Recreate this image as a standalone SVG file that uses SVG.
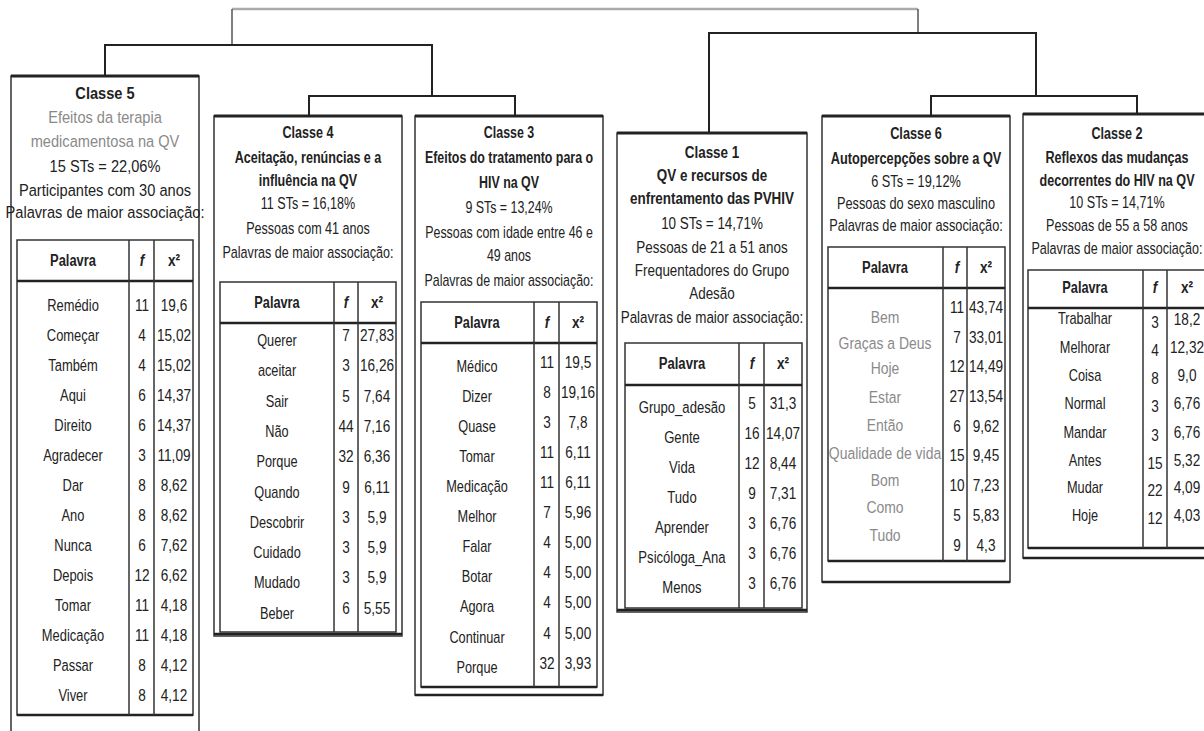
<svg xmlns="http://www.w3.org/2000/svg" width="1204" height="731" viewBox="0 0 1204 731">
<style>
.bx{fill:#fff;stroke:#333;stroke-width:1.5}
.tp{stroke:#222;stroke-width:3}
.tb{fill:none;stroke:#333;stroke-width:1.5}
.hl{stroke:#222;stroke-width:2.5}
.cl{stroke:#333;stroke-width:1.5}
.ln{fill:none;stroke:#222;stroke-width:2}
.lg{fill:none;stroke:#aaa;stroke-width:2.5}
.lv{fill:none;stroke:#555;stroke-width:1.5}
text{font-family:"Liberation Sans",Arial,sans-serif;font-size:17px;fill:#222;text-anchor:middle}
.b{font-weight:bold}
.g{fill:#8a8a8a}
.i{font-style:italic}
</style>
<rect width="1204" height="731" fill="#fff"/>
<g id="connectors">
<path class="lg" d="M232,9 H918"/>
<path class="lv" d="M232,9 V45"/>
<path class="lv" d="M918,9 V33"/>
<path class="ln" d="M105,76 V45 H432 V96"/>
<path class="ln" d="M309,116 V96 H515 V116"/>
<path class="ln" d="M709,133 V33 H1036 V96"/>
<path class="ln" d="M931,116 V96 H1137 V114"/>
</g>

<g id="classe5">
<path class="bx" d="M11,745 V76 H199 V745"/>
<line class="tp" x1="11" y1="76" x2="199" y2="76"/>
<rect class="tb" x="17" y="240" width="176" height="475"/>
<line class="hl" x1="17" y1="281" x2="193" y2="281"/>
<line class="hl" x1="17" y1="715" x2="193" y2="715"/>
<line class="cl" x1="129" y1="240" x2="129" y2="715"/>
<line class="cl" x1="154" y1="240" x2="154" y2="715"/>
<g transform="translate(105,0) scale(0.86,1)">
<text class="b" y="99">Classe 5</text>
<text class="g" y="123">Efeitos da terapia</text>
<text class="g" y="147">medicamentosa na QV</text>
<text y="172">15 STs = 22,06%</text>
<text y="196">Participantes com 30 anos</text>
<text y="218">Palavras de maior associação:</text>
</g>
<g transform="translate(73,0) scale(0.76,1)">
<text class="b" y="266">Palavra</text>
<text y="311">Remédio</text><text y="341">Começar</text><text y="371">Também</text><text y="401">Aqui</text><text y="431">Direito</text><text y="461">Agradecer</text><text y="491">Dar</text><text y="521">Ano</text><text y="551">Nunca</text><text y="581">Depois</text><text y="611">Tomar</text><text y="641">Medicação</text><text y="671">Passar</text><text y="701">Viver</text>
</g>
<g transform="translate(142,0) scale(0.8,1)">
<text class="b i" y="266">f</text>
<text y="311">11</text><text y="341">4</text><text y="371">4</text><text y="401">6</text><text y="431">6</text><text y="461">3</text><text y="491">8</text><text y="521">8</text><text y="551">6</text><text y="581">12</text><text y="611">11</text><text y="641">11</text><text y="671">8</text><text y="701">8</text>
</g>
<g transform="translate(174,0) scale(0.8,1)">
<text class="b" y="266">x²</text>
<text y="311">19,6</text><text y="341">15,02</text><text y="371">15,02</text><text y="401">14,37</text><text y="431">14,37</text><text y="461">11,09</text><text y="491">8,62</text><text y="521">8,62</text><text y="551">7,62</text><text y="581">6,62</text><text y="611">4,18</text><text y="641">4,18</text><text y="671">4,12</text><text y="701">4,12</text>
</g>
</g>

<g id="classe4">
<rect class="bx" x="214" y="116" width="188" height="520"/>
<line class="tp" x1="214" y1="116" x2="402" y2="116"/>
<rect class="tb" x="220" y="282" width="176" height="350"/>
<line class="hl" x1="220" y1="323" x2="396" y2="323"/>
<line class="hl" x1="214" y1="634" x2="402" y2="634"/>
<line class="cl" x1="334" y1="282" x2="334" y2="632"/>
<line class="cl" x1="358" y1="282" x2="358" y2="632"/>
<g transform="translate(308,0) scale(0.74,1)">
<text class="b" y="138">Classe 4</text>
<text class="b" y="163">Aceitação, renúncias e a</text>
<text class="b" y="186">influência na QV</text>
<text y="209">11 STs = 16,18%</text>
<text y="234">Pessoas com 41 anos</text>
<text y="258">Palavras de maior associação:</text>
</g>
<g transform="translate(277,0) scale(0.75,1)">
<text class="b" y="308">Palavra</text>
<text y="346">Querer</text><text y="376">aceitar</text><text y="407">Sair</text><text y="437">Não</text><text y="467">Porque</text><text y="498">Quando</text><text y="528">Descobrir</text><text y="558">Cuidado</text><text y="588">Mudado</text><text y="619">Beber</text>
</g>
<g transform="translate(346,0) scale(0.8,1)">
<text class="b i" y="308">f</text>
<text y="341">7</text><text y="371">3</text><text y="402">5</text><text y="432">44</text><text y="462">32</text><text y="493">9</text><text y="523">3</text><text y="553">3</text><text y="583">3</text><text y="614">6</text>
</g>
<g transform="translate(377,0) scale(0.8,1)">
<text class="b" y="308">x²</text>
<text y="341">27,83</text><text y="371">16,26</text><text y="402">7,64</text><text y="432">7,16</text><text y="462">6,36</text><text y="493">6,11</text><text y="523">5,9</text><text y="553">5,9</text><text y="583">5,9</text><text y="614">5,55</text>
</g>
</g>

<g id="classe3">
<rect class="bx" x="415" y="116" width="188" height="579"/>
<line class="tp" x1="415" y1="116" x2="603" y2="116"/>
<rect class="tb" x="421" y="302" width="176" height="385"/>
<line class="hl" x1="421" y1="343" x2="597" y2="343"/>
<line class="hl" x1="421" y1="687" x2="597" y2="687"/>
<line class="hl" x1="415" y1="695" x2="603" y2="695"/>
<line class="cl" x1="534" y1="302" x2="534" y2="687"/>
<line class="cl" x1="559" y1="302" x2="559" y2="687"/>
<g transform="translate(509,0) scale(0.73,1)">
<text class="b" y="138">Classe 3</text>
<text class="b" y="163">Efeitos do tratamento para o</text>
<text class="b" y="188">HIV na QV</text>
<text y="213">9 STs = 13,24%</text>
<text y="238">Pessoas com idade entre 46 e</text>
<text y="261">49 anos</text>
<text y="286">Palavras de maior associação:</text>
</g>
<g transform="translate(477,0) scale(0.75,1)">
<text class="b" y="328">Palavra</text>
<text y="372">Médico</text><text y="402">Dizer</text><text y="432">Quase</text><text y="462">Tomar</text><text y="492">Medicação</text><text y="522">Melhor</text><text y="552">Falar</text><text y="582">Botar</text><text y="612">Agora</text><text y="643">Continuar</text><text y="673">Porque</text>
</g>
<g transform="translate(547,0) scale(0.8,1)">
<text class="b i" y="328">f</text>
<text y="368">11</text><text y="398">8</text><text y="428">3</text><text y="458">11</text><text y="488">11</text><text y="518">7</text><text y="548">4</text><text y="578">4</text><text y="608">4</text><text y="639">4</text><text y="669">32</text>
</g>
<g transform="translate(578,0) scale(0.8,1)">
<text class="b" y="328">x²</text>
<text y="368">19,5</text><text y="398">19,16</text><text y="428">7,8</text><text y="458">6,11</text><text y="488">6,11</text><text y="518">5,96</text><text y="548">5,00</text><text y="578">5,00</text><text y="608">5,00</text><text y="639">5,00</text><text y="669">3,93</text>
</g>
</g>

<g id="classe1">
<rect class="bx" x="617" y="133" width="190" height="479"/>
<line class="tp" x1="617" y1="133" x2="807" y2="133"/>
<rect class="tb" x="625" y="343" width="177" height="265"/>
<line class="hl" x1="625" y1="385" x2="802" y2="385"/>
<line class="hl" x1="617" y1="610" x2="807" y2="610"/>
<line class="cl" x1="739" y1="343" x2="739" y2="608"/>
<line class="cl" x1="764" y1="343" x2="764" y2="608"/>
<g transform="translate(712,0) scale(0.79,1)">
<text class="b" y="158">Classe 1</text>
<text class="b" y="181">QV e recursos de</text>
<text class="b" y="204">enfrentamento das PVHIV</text>
<text y="229">10 STs = 14,71%</text>
<text y="253">Pessoas de 21 a 51 anos</text>
<text y="276">Frequentadores do Grupo</text>
<text y="299">Adesão</text>
<text y="323">Palavras de maior associação:</text>
</g>
<g transform="translate(682,0) scale(0.77,1)">
<text class="b" y="369">Palavra</text>
<text y="413">Grupo_adesão</text><text y="443">Gente</text><text y="473">Vida</text><text y="503">Tudo</text><text y="533">Aprender</text><text y="563">Psicóloga_Ana</text><text y="593">Menos</text>
</g>
<g transform="translate(752,0) scale(0.8,1)">
<text class="b i" y="369">f</text>
<text y="409">5</text><text y="439">16</text><text y="469">12</text><text y="499">9</text><text y="529">3</text><text y="559">3</text><text y="589">3</text>
</g>
<g transform="translate(783,0) scale(0.8,1)">
<text class="b" y="369">x²</text>
<text y="409">31,3</text><text y="439">14,07</text><text y="469">8,44</text><text y="499">7,31</text><text y="529">6,76</text><text y="559">6,76</text><text y="589">6,76</text>
</g>
</g>

<g id="classe6">
<rect class="bx" x="822" y="116" width="188" height="466"/>
<line class="tp" x1="822" y1="116" x2="1010" y2="116"/>
<rect class="tb" x="828" y="247" width="177" height="314"/>
<line class="hl" x1="828" y1="288" x2="1005" y2="288"/>
<line class="hl" x1="828" y1="561" x2="1005" y2="561"/>
<line class="hl" x1="822" y1="582" x2="1010" y2="582"/>
<line class="cl" x1="943" y1="247" x2="943" y2="561"/>
<line class="cl" x1="967" y1="247" x2="967" y2="561"/>
<g transform="translate(916,0) scale(0.75,1)">
<text class="b" y="139">Classe 6</text>
<text class="b" y="164">Autopercepções sobre a QV</text>
<text y="187">6 STs = 19,12%</text>
<text y="209">Pessoas do sexo masculino</text>
<text y="231">Palavras de maior associação:</text>
</g>
<g transform="translate(885,0) scale(0.76,1)">
<text class="b" y="273">Palavra</text>
</g>
<g transform="translate(885,0) scale(0.82,1)">
<text class="g" y="323">Bem</text><text class="g" y="349">Graças a Deus</text><text class="g" y="374">Hoje</text><text class="g" y="403">Estar</text><text class="g" y="431">Então</text><text class="g" y="459">Qualidade de vida</text><text class="g" y="486">Bom</text><text class="g" y="513">Como</text><text class="g" y="541">Tudo</text>
</g>
<g transform="translate(957,0) scale(0.8,1)">
<text class="b i" y="273">f</text>
<text y="313">11</text><text y="343">7</text><text y="372">12</text><text y="402">27</text><text y="432">6</text><text y="461">15</text><text y="491">10</text><text y="521">5</text><text y="551">9</text>
</g>
<g transform="translate(986,0) scale(0.8,1)">
<text class="b" y="273">x²</text>
<text y="313">43,74</text><text y="343">33,01</text><text y="372">14,49</text><text y="402">13,54</text><text y="432">9,62</text><text y="461">9,45</text><text y="491">7,23</text><text y="521">5,83</text><text y="551">4,3</text>
</g>
</g>

<g id="classe2">
<rect class="bx" x="1023" y="114" width="192" height="444"/>
<line class="tp" x1="1023" y1="114" x2="1215" y2="114"/>
<rect class="tb" x="1028" y="270" width="182" height="278"/>
<line class="hl" x1="1028" y1="308" x2="1210" y2="308"/>
<line class="hl" x1="1028" y1="548" x2="1210" y2="548"/>
<line class="hl" x1="1023" y1="558" x2="1215" y2="558"/>
<line class="cl" x1="1143" y1="270" x2="1143" y2="548"/>
<line class="cl" x1="1167" y1="270" x2="1167" y2="548"/>
<g transform="translate(1117,0) scale(0.74,1)">
<text class="b" y="139">Classe 2</text>
<text class="b" y="163">Reflexos das mudanças</text>
<text class="b" y="186">decorrentes do HIV na QV</text>
<text y="208">10 STs = 14,71%</text>
<text y="231">Pessoas de 55 a 58 anos</text>
<text y="254">Palavras de maior associação:</text>
</g>
<g transform="translate(1085,0) scale(0.75,1)">
<text class="b" y="293">Palavra</text>
<text y="324">Trabalhar</text><text y="353">Melhorar</text><text y="381">Coisa</text><text y="409">Normal</text><text y="438">Mandar</text><text y="466">Antes</text><text y="493">Mudar</text><text y="521">Hoje</text>
</g>
<g transform="translate(1155,0) scale(0.8,1)">
<text class="b i" y="293">f</text>
<text y="328">3</text><text y="356">4</text><text y="384">8</text><text y="412">3</text><text y="441">3</text><text y="469">15</text><text y="496">22</text><text y="524">12</text>
</g>
<g transform="translate(1187,0) scale(0.8,1)">
<text class="b" y="293">x²</text>
<text y="325">18,2</text><text y="353">12,32</text><text y="381">9,0</text><text y="409">6,76</text><text y="438">6,76</text><text y="466">5,32</text><text y="493">4,09</text><text y="521">4,03</text>
</g>
</g>
</svg>
